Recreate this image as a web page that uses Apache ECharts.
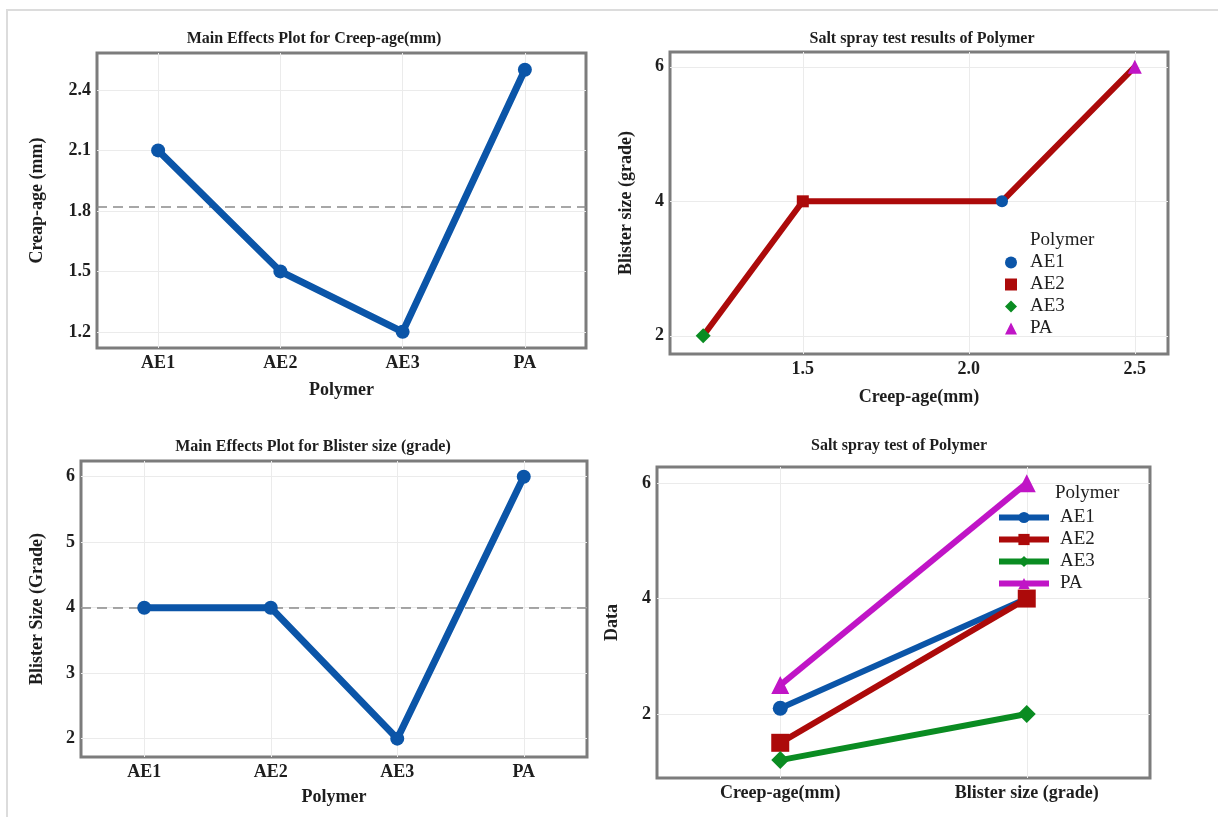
<!DOCTYPE html>
<html>
<head>
<meta charset="utf-8">
<script src="https://cdn.jsdelivr.net/npm/echarts@6/dist/echarts.min.js"></script>
<style>
html,body{margin:0;padding:0;background:#fff;}
#c{width:1218px;height:817px;}
</style>
</head>
<body>
<div id="c"></div>
<script>
const polymers = ['AE1', 'AE2', 'AE3', 'PA'];
const creepAge = [2.1, 1.5, 1.2, 2.5];
const blisterSize = [4, 4, 2, 6];
const measures = ['Creep-age(mm)', 'Blister size (grade)'];
const creepTicks = [1.2, 1.5, 1.8, 2.1, 2.4];
const blisterTicks = [2, 3, 4, 5, 6];
const saltXTicks = [1.5, 2.0, 2.5];
const saltYTicks = [2, 4, 6];
const dataTicks = [2, 4, 6];

const colors = { AE1: '#0b55a8', AE2: '#ac0a0a', AE3: '#0a8c22', PA: '#c015c6' };
const symbols = { AE1: 'circle', AE2: 'rect', AE3: 'diamond', PA: 'triangle' };

const FONT = 'Liberation Serif';
const TXT = '#1e1e1e';
const labelStyle = { fontFamily: FONT, fontWeight: 'bold', fontSize: 18, color: TXT };
const nameStyle = { fontFamily: FONT, fontWeight: 'bold', fontSize: 18, color: TXT };
const splitLine = { show: true, lineStyle: { color: '#ebebeb', width: 1 } };
const gridBase = { show: true, borderColor: '#7c7c7c', borderWidth: 3, backgroundColor: '#fff' };

function valAxis(gi, min, max, ticks, fmt, extra) {
  return Object.assign({
    type: 'value', gridIndex: gi, min: min, max: max,
    axisLine: { show: false },
    axisTick: { show: false, customValues: ticks },
    axisLabel: Object.assign({ customValues: ticks, formatter: fmt, margin: 6 }, labelStyle),
    splitLine: splitLine,
    nameTextStyle: nameStyle
  }, extra || {});
}

const idx = polymers.map((p, i) => i);
const mIdx = measures.map((m, i) => i);
const catFmt = v => polymers[Math.round(v)] || '';
const measFmt = v => measures[Math.round(v)] || '';

const saltLine = polymers.map((p, i) => [creepAge[i], blisterSize[i]]).sort((a, b) => a[0] - b[0]);

function meanLine(xi, values) {
  return {
    type: 'line', xAxisIndex: xi, yAxisIndex: xi, z: 1,
    data: values.map((v, i) => [i, v]), showSymbol: false, silent: true,
    lineStyle: { opacity: 0 },
    markLine: { silent: true, symbol: 'none', label: { show: false }, animation: false, z: 1,
      lineStyle: { color: '#8a8a8a', width: 1.6, type: [10, 6] },
      data: [{ type: 'average', valueIndex: 1 }] }
  };
}

const series = [];
// Panel 1
series.push(meanLine(0, creepAge));
series.push({
  type: 'line', xAxisIndex: 0, yAxisIndex: 0, name: 'creep-main', z: 3,
  data: polymers.map((p, i) => [i, creepAge[i]]),
  symbol: 'circle', symbolSize: 14,
  lineStyle: { color: colors.AE1, width: 7 }, itemStyle: { color: colors.AE1 }
});
// Panel 3
series.push(meanLine(2, blisterSize));
series.push({
  type: 'line', xAxisIndex: 2, yAxisIndex: 2, name: 'blister-main', z: 3,
  data: polymers.map((p, i) => [i, blisterSize[i]]),
  symbol: 'circle', symbolSize: 14,
  lineStyle: { color: colors.AE1, width: 7 }, itemStyle: { color: colors.AE1 }
});
// Panel 2 line
series.push({
  type: 'line', xAxisIndex: 1, yAxisIndex: 1, name: 'salt-line',
  data: saltLine, showSymbol: false,
  lineStyle: { color: colors.AE2, width: 6 }, z: 2
});
// Panel 2 markers
const saltSizes = { AE1: 12, AE2: 12, AE3: 15, PA: 14 };
polymers.forEach((p, i) => {
  series.push({
    type: 'scatter', xAxisIndex: 1, yAxisIndex: 1, name: 's:' + p,
    data: [[creepAge[i], blisterSize[i]]],
    symbol: symbols[p], symbolSize: saltSizes[p],
    itemStyle: { color: colors[p], opacity: 1 }, z: 3
  });
});
// Panel 4 lines
polymers.forEach((p, i) => {
  series.push({
    type: 'line', xAxisIndex: 3, yAxisIndex: 3, name: 'd:' + p,
    data: [[0, creepAge[i]], [1, blisterSize[i]]],
    symbol: symbols[p], symbolSize: p === 'AE1' ? 15 : 18,
    lineStyle: { color: colors[p], width: 6 }, itemStyle: { color: colors[p] }
  });
});

const titleStyle = { fontFamily: FONT, fontWeight: 'bold', fontSize: 16, color: TXT };

const option = {
  animation: false,
  backgroundColor: '#fff',
  graphic: [
    { type: 'line', shape: { x1: 6, y1: 10, x2: 1218, y2: 10 }, style: { stroke: '#dcdcdc', lineWidth: 2 } },
    { type: 'line', shape: { x1: 7, y1: 10, x2: 7, y2: 817 }, style: { stroke: '#dcdcdc', lineWidth: 2 } }
  ],
  title: [
    { text: 'Main Effects Plot for Creep-age(mm)', left: 309, top: 26, textAlign: 'center', textStyle: titleStyle },
    { text: 'Salt spray test results of Polymer', left: 917, top: 26, textAlign: 'center', textStyle: titleStyle },
    { text: 'Main Effects Plot for Blister size (grade)', left: 308, top: 434, textAlign: 'center', textStyle: titleStyle },
    { text: 'Salt spray test of Polymer', left: 894, top: 433, textAlign: 'center', textStyle: titleStyle },
    { text: 'Polymer', left: 1030, top: 231, padding: 0,
      textStyle: { fontFamily: FONT, fontWeight: 'normal', fontSize: 19, color: TXT } },
    { text: 'Polymer', left: 1055, top: 484, padding: 0,
      textStyle: { fontFamily: FONT, fontWeight: 'normal', fontSize: 19, color: TXT } }
  ],
  grid: [
    Object.assign({ left: 97, top: 53, width: 489, height: 295 }, gridBase),
    Object.assign({ left: 670, top: 52, width: 498, height: 302 }, gridBase),
    Object.assign({ left: 81, top: 461, width: 506, height: 296 }, gridBase),
    Object.assign({ left: 657, top: 467, width: 493, height: 311 }, gridBase)
  ],
  xAxis: [
    valAxis(0, -0.5, 3.5, idx, catFmt, { name: 'Polymer', nameLocation: 'middle', nameGap: 33 }),
    valAxis(1, 1.1, 2.6, saltXTicks, v => v.toFixed(1), { name: 'Creep-age(mm)', nameLocation: 'middle', nameGap: 34 }),
    valAxis(2, -0.5, 3.5, idx, catFmt, { name: 'Polymer', nameLocation: 'middle', nameGap: 31 }),
    valAxis(3, -0.5, 1.5, mIdx, measFmt, {})
  ],
  yAxis: [
    valAxis(0, 1.12, 2.583, creepTicks, v => v.toFixed(1), { name: 'Creap-age (mm)', nameLocation: 'middle', nameGap: 51 }),
    valAxis(1, 1.73, 6.22, saltYTicks, v => String(v), { name: 'Blister size (grade)', nameLocation: 'middle', nameGap: 35 }),
    valAxis(2, 1.72, 6.24, blisterTicks, v => String(v), { name: 'Blister Size (Grade)', nameLocation: 'middle', nameGap: 35 }),
    valAxis(3, 0.89, 6.28, dataTicks, v => String(v), { name: 'Data', nameLocation: 'middle', nameGap: 36 })
  ],
  legend: [
    {
      orient: 'vertical', left: 1005, top: 253, padding: 0,
      itemWidth: 12, itemHeight: 12, itemGap: 3,
      data: polymers.map(p => ({ name: 's:' + p, icon: symbols[p], itemStyle: { color: colors[p], opacity: 1 } })),
      formatter: n => n.slice(2),
      textStyle: { fontFamily: FONT, fontSize: 19, color: TXT, lineHeight: 18, padding: [0, 0, 0, 8] },
      selectedMode: false
    },
    {
      orient: 'vertical', left: 996, top: 508, padding: 0,
      itemWidth: 50, itemHeight: 14, itemGap: 3,
      lineStyle: { width: 6 },
      data: polymers.map(p => 'd:' + p),
      formatter: n => n.slice(2),
      textStyle: { fontFamily: FONT, fontSize: 19, color: TXT, lineHeight: 18, padding: [0, 0, 0, 6] },
      selectedMode: false
    }
  ],
  series: series
};

const chart = echarts.init(document.getElementById('c'), null, { renderer: 'canvas' });
chart.setOption(option);
</script>
</body>
</html>
